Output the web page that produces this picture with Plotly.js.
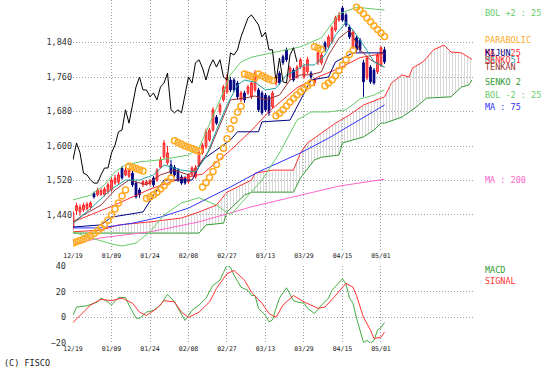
<!DOCTYPE html>
<html><head><meta charset="utf-8">
<script src="https://cdn.plot.ly/plotly-3.0.1.min.js"></script>
<style>body{margin:0;background:#fff}#c{width:557px;height:382px}</style>
</head><body><div id="c"></div>
<script>
// ---- candles (bar index 0 = 12/19) ----
const openP  = [1412,1450,1447,1452,1455,1458,1490,1487,1488,1487,1494,1498,1514,1516,1549,1533,1530,1537,1514,1498,
                1510,1512,1512,1526,1521,1551,1575,1561,1556,1551,1544,1528,1526,1517,1533,1528,1556,1584,1598,1614,
                1637,1667,1679,1707,1725,1753,1753,1746,1707,1723,1723,1714,1730,1730,1723,1718,1714,1691,1746,1769,
                1807,1823,1760,1776,1760,1783,1760,1772,1769,1746,1793,1793,1839,1830,1841,1869,1892,1920,1904,1876,
                1830,1851,1846,1793,1758,1783,1776,1772,1788,1823];
const highP  = [1450,1468,1465,1468,1470,1472,1494,1503,1502,1505,1515,1526,1533,1540,1553,1552,1549,1542,1518,1503,
                1521,1521,1524,1530,1549,1575,1614,1600,1568,1556,1549,1533,1530,1537,1554,1556,1591,1607,1640,1642,
                1690,1672,1700,1742,1767,1760,1758,1751,1728,1728,1742,1751,1776,1735,1728,1723,1718,1728,1765,1774,
                1812,1828,1786,1781,1788,1805,1790,1807,1774,1758,1821,1816,1844,1858,1879,1902,1911,1925,1909,1881,
                1869,1855,1851,1800,1809,1788,1781,1816,1832,1830];
const lowP   = [1405,1440,1438,1447,1450,1452,1478,1483,1484,1483,1488,1494,1510,1512,1522,1530,1526,1505,1478,1480,
                1505,1508,1508,1505,1517,1547,1570,1556,1533,1528,1517,1510,1510,1512,1528,1524,1551,1580,1593,1610,
                1633,1649,1672,1702,1721,1725,1725,1707,1702,1700,1718,1709,1725,1679,1672,1679,1670,1686,1740,1742,
                1788,1795,1753,1749,1756,1779,1756,1767,1753,1740,1788,1788,1818,1825,1837,1865,1888,1888,1876,1848,
                1825,1818,1818,1714,1753,1744,1742,1767,1783,1790];
const closeP = [1445,1462,1458,1463,1465,1468,1482,1498,1497,1500,1510,1521,1526,1533,1526,1544,1544,1510,1482,1487,
                1517,1517,1519,1510,1544,1568,1607,1584,1537,1533,1521,1514,1514,1533,1549,1549,1584,1602,1633,1637,
                1684,1653,1695,1737,1760,1730,1730,1714,1723,1707,1737,1746,1769,1684,1677,1684,1677,1723,1760,1746,
                1793,1800,1781,1753,1783,1800,1783,1800,1760,1753,1816,1811,1823,1853,1874,1897,1904,1892,1881,1853,
                1864,1823,1823,1749,1804,1749,1746,1811,1828,1795];
// ---- parabolic SAR ----
const sarP = [1375,1378,1381,1384,1388,1392,1397,1403,1410,1418,1428,1440,1454,1468,1484,1498,1553,1551,1548,1545,
              1542,1478,1482,1487,1493,1500,1508,1517,1526,1612,1608,1604,1600,1597,1594,1591,1588,1505,1515,1527,
              1541,1557,1575,1595,1617,1640,1660,1678,1692,1767,1764,1761,1758,1767,1763,1759,1755,1752,1670,1676,
              1684,1693,1702,1710,1718,1726,1733,1740,1746,1830,1827,1824,1740,1746,1753,1763,1775,1788,1800,1812,
              1822,1922,1915,1907,1897,1888,1879,1870,1862,1854];
// ---- lines: [bar index], [price] ----
const bolUpX = [0,5,9,12,15,19,25,33,36,39,42,45,48,51,58,65,71,73,76,81,85,89];
const bolUpY = [1475,1486,1510,1540,1556,1563,1568,1579,1595,1649,1707,1765,1795,1806,1818,1830,1851,1874,1906,1922,1918,1915];
const bolLoX = [0,5,11,14,18,22,26,31,36,41,45,49,54,59,64,68,73,78,82,86,89];
const bolLoY = [1401,1387,1373,1368,1375,1401,1440,1468,1480,1463,1440,1475,1521,1584,1660,1679,1679,1684,1709,1718,1730];
const ma25X = [0,11,22,31,37,45,51,56,64,70,76,82,89];
const ma25Y = [1424,1460,1500,1525,1535,1590,1636,1680,1735,1760,1780,1805,1815];
const ma5X = [0,5,11,15,19,23,26,31,35,38,41,44,47,49,52,55,58,61,64,66,69,72,75,78,80,83,86,89];
const ma5Y = [1420,1455,1500,1521,1521,1533,1556,1544,1540,1575,1637,1695,1741,1753,1748,1730,1734,1765,1776,1788,1788,1811,1857,1887,1869,1834,1795,1783];
const kijunX = [0,8,11,20,24,26,34,37,45,47,53,54,62,65,68,73,75,80,89];
const kijunY = [1412,1417,1435,1447,1498,1521,1521,1568,1614,1633,1633,1656,1660,1707,1753,1760,1795,1816,1816];
const tenkanX = [0,3,8,12,16,21,25,29,33,36,39,42,45,49,52,55,59,62,65,68,71,73,76,79,82,85,89];
const tenkanY = [1424,1440,1463,1498,1521,1510,1533,1544,1533,1556,1591,1649,1707,1711,1716,1707,1718,1753,1765,1765,1772,1811,1850,1869,1823,1800,1783];
const senko1X = [0,8,13,22,31,36,41,44,51,52,57,63,65,67,71,75,79,83,89,91,94,96,97,100,103,106,108,111,113,114];
const senko1Y = [1401,1405,1417,1424,1433,1447,1463,1493,1521,1537,1544,1544,1584,1607,1630,1653,1672,1695,1714,1746,1765,1760,1781,1795,1823,1834,1818,1816,1806,1801];
const senko2X = [0,36,38,43,44,46,49,51,63,65,69,71,76,77,80,83,86,88,89,94,98,101,108,111,113,114];
const senko2Y = [1398,1398,1417,1421,1447,1463,1486,1493,1493,1526,1568,1574,1579,1607,1614,1621,1637,1653,1653,1667,1690,1711,1714,1737,1741,1753];
const ma75X = [0,8,17,25,33,45,53,65,73,81,89];
const ma75Y = [1410,1410,1421,1435,1456,1505,1540,1584,1618,1656,1695];
const ma200X = [0,8,22,36,51,65,76,89];
const ma200Y = [1373,1387,1401,1424,1459,1486,1507,1523];
const chikouShift = 25;
// ---- MACD ----
const macdX = [0,1,4,7,8,10,11,13,15,16,18,19,21,23,25,27,29,31,32,33,34,36,38,40,42,43,44,45,46,48,50,51,52,53,55,56,57,58,59,61,63,64,66,67,69,71,73,74,76,77,78,79,80,81,83,84,85,86,87,88,89];
const macdY = [1.5,8,9,12,15,12,9.5,15.5,15.5,9.5,-0.5,-1,4,5.5,9.5,18,12,1.5,-2.5,1.5,5.5,9.5,15,25,29,35,40.5,39,33,23.5,21,17,17,7,1.5,-3.5,-2,7,15,23,13,12,11,7,3,9.5,15,21,27,30,26,15,11,-0.5,-19.5,-18,-20,-18,-10,-8,-4];
const sigX = [0,3,5,8,11,14,17,19,21,24,26,29,31,33,36,39,41,44,46,49,51,54,56,58,60,63,66,70,72,75,78,80,81,83,85,86,88,89];
const sigY = [-4,4,9.5,14,13,15,11,4,1.5,7,13,12,4,0,4,12,22.5,34,36.5,29,19.5,11,3,0,9.5,17,12,7,8,17,26.5,23.5,17,0,-10,-16.5,-15.5,-11.5];
const tickIdx = [0,11,22,33,44,55,66,77,88];
const tickLabels = ['12/19','01/09','01/24','02/08','02/27','03/13','03/29','04/15','05/01'];

const barIdx = closeP.map((_, i) => i);
const mono = 'DejaVu Sans Mono, monospace';
function line(x, y, color, w, extra) {
  return Object.assign({type:'scatter', mode:'lines', x:x, y:y, line:{color:color, width:w||1}, hoverinfo:'skip', xaxis:'x', yaxis:'y'}, extra||{});
}
const traces = [
  line(senko2X, senko2Y, '#339933', 1),
  line(senko1X, senko1Y, '#ff3333', 1, {fill:'tonexty', fillcolor:'rgba(255,255,255,0)',
     fillpattern:{shape:'|', size:3, solidity:0.3, fgcolor:'#a8a8a8', bgcolor:'rgba(255,255,255,0)', fillmode:'overlay'}}),
  line(ma200X, ma200Y, '#ff66cc', 1),
  line(ma75X, ma75Y, '#3333ff', 1),
  line(bolUpX, bolUpY, '#66cc66', 1),
  line(bolLoX, bolLoY, '#66cc66', 1),
  line(ma25X, ma25Y, '#ff3030', 1),
  line(kijunX, kijunY, '#000080', 1),
  line(tenkanX, tenkanY, '#993333', 1),
  line(ma5X, ma5Y, '#20a0a0', 1),
  line(barIdx.slice(chikouShift).map(i => i - chikouShift), closeP.slice(chikouShift), '#000000', 1),
  {type:'candlestick', x:barIdx, open:openP, high:highP, low:lowP, close:closeP, xaxis:'x', yaxis:'y',
   increasing:{line:{color:'#ff2020', width:1}, fillcolor:'#ff7070'},
   decreasing:{line:{color:'#000080', width:1}, fillcolor:'#000080'},
   whiskerwidth:0, hoverinfo:'skip'},
  {type:'scatter', mode:'markers', x:barIdx, y:sarP, xaxis:'x', yaxis:'y', hoverinfo:'skip',
   marker:{symbol:'circle-open', size:6, color:'#ffaa22', line:{width:1.5, color:'#ffaa22'}}},
  {type:'scatter', mode:'lines', x:macdX, y:macdY, xaxis:'x2', yaxis:'y2', line:{color:'#44aa44', width:1}},
  {type:'scatter', mode:'lines', x:sigX, y:sigY, xaxis:'x2', yaxis:'y2', line:{color:'#ff3333', width:1}}
];
const H = 343; // plot area height in px
const py = p => (H - p) / H;
const px = p => (p - 73) / 400;
function lab(text, color, y) {
  return {text:text, xref:'paper', yref:'paper', x:px(483), y:py(y), xanchor:'left', yanchor:'middle',
          showarrow:false, font:{family:mono, size:8.5, color:color}};
}
const grid = {gridcolor:'#a0a0a0', griddash:'1px,2px', gridwidth:1, zeroline:false, showline:false, ticks:''};
const layout = {
  width:557, height:382, margin:{l:73, r:84, t:0, b:39}, paper_bgcolor:'#fff', plot_bgcolor:'#fff',
  showlegend:false,
  xaxis:Object.assign({domain:[0,1], anchor:'y', range:[0,114.29], tickvals:tickIdx, ticktext:tickLabels,
        tickfont:{family:mono, size:6.5, color:'#222'}, rangeslider:{visible:false}}, grid),
  xaxis2:Object.assign({domain:[0,1], anchor:'y2', range:[0,114.29], tickvals:tickIdx, ticktext:tickLabels,
        tickfont:{family:mono, size:6.5, color:'#222'}}, grid),
  yaxis:Object.assign({domain:[py(250),1], range:[1358.8,1938.6], tickvals:[1440,1520,1600,1680,1760,1840],
        tickformat:',d', tickfont:{family:mono, size:8.5, color:'#333'}}, grid),
  yaxis2:Object.assign({domain:[0,py(266)], range:[-20,40], tickvals:[-20,0,20,40],
        tickfont:{family:mono, size:8.5, color:'#333'}, ticklabelstandoff:6}, grid),
  annotations:[
    lab('BOL +2 : 25', '#66cc66', 13),
    lab('PARABOLIC', '#ffaa22', 40),
    lab('MA : 25', '#ff3030', 53),
    lab('KIJUN', '#000080', 53),
    lab('MA : 5', '#20a0a0', 60),
    lab('SENKO 1', '#ff3333', 60),
    lab('TENKAN', '#993333', 67),
    lab('SENKO 2', '#339933', 82),
    lab('BOL -2 : 25', '#66cc66', 95),
    lab('MA : 75', '#3333ff', 107),
    lab('MA : 200', '#ff66cc', 180),
    lab('MACD', '#339933', 270),
    lab('SIGNAL', '#ff3333', 281),
    {text:'(C) FISCO', xref:'paper', yref:'paper', x:px(2), y:py(363), xanchor:'left', yanchor:'middle',
     showarrow:false, font:{family:mono, size:8.5, color:'#222'}}
  ]
};
Plotly.newPlot('c', traces, layout, {staticPlot:true});
</script></body></html>
